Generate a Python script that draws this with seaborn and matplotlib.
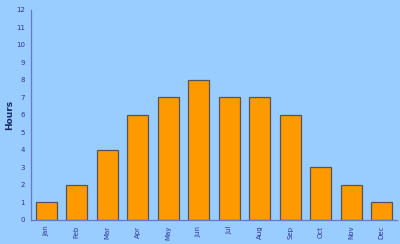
import matplotlib
matplotlib.use("Agg")
import matplotlib.pyplot as plt
import seaborn as sns
import pandas as pd
import numpy as np

months = ["Jan", "Feb", "Mar", "Apr", "May", "Jun", "Jul", "Aug", "Sep", "Oct", "Nov", "Dec"]
hours = [1, 2, 4, 6, 7, 8, 7, 7, 6, 3, 2, 1]
y_ticks = list(range(0, 13))

df = pd.DataFrame({"Month": months, "Hours": hours})

sns.set_style("white")
plt.rcParams['font.family'] = ['DejaVu Sans']

bg = "#99CCFF"
axis_col = "#6677CC"
text_col = "#333399"

fig = plt.figure(figsize=(4.0, 2.44), dpi=100, facecolor=bg)
ax = fig.add_axes([0.0775, 0.0984, 0.915, 0.861], facecolor=bg)

sns.barplot(data=df, x="Month", y="Hours", ax=ax, color="#FF9900",
            edgecolor="#555555", linewidth=0.9, width=0.68, saturation=1)

ax.set_ylim(0, 12)
ax.set_xlim(-0.5, len(months) - 0.5)
ax.set_yticks(y_ticks)
ax.set_yticklabels([str(v) for v in y_ticks], fontsize=5, color=text_col)
ax.set_xticks(range(len(months)))
ax.set_xticklabels(months, rotation=90, fontsize=5, color=text_col)
ax.set_xticks(np.arange(-0.5, len(months) + 0.5, 1), minor=True)
ax.tick_params(axis="x", which="major", length=0, pad=4)
ax.tick_params(axis="x", which="minor", length=2.5, color=axis_col, width=0.8)
ax.tick_params(axis="y", length=2.5, color=axis_col, width=0.8, pad=2)

for s in ["top", "right"]:
    ax.spines[s].set_visible(False)
for s in ["left", "bottom"]:
    ax.spines[s].set_color(axis_col)
    ax.spines[s].set_linewidth(0.9)

ax.set_xlabel("")
ax.set_ylabel("Hours", fontsize=6.5, fontweight="bold", color="#1a2a6c")
ax.yaxis.set_label_coords(-0.047, 0.5)

fig.savefig("out.png", dpi=100, facecolor=bg)
